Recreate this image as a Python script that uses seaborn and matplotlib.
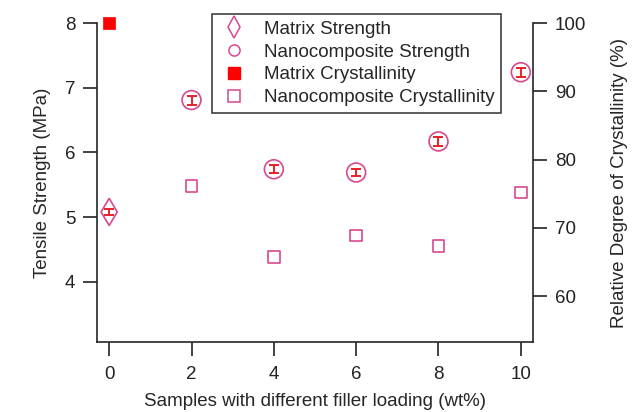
import matplotlib
matplotlib.use("Agg")
import matplotlib.pyplot as plt
from matplotlib.lines import Line2D
import numpy as np
import pandas as pd
import seaborn as sns

# tensile strength (MPa)
matrix_x = [0]
matrix_strength = [5.08]
matrix_strength_err = [0.045]
nano_x = [2, 4, 6, 8, 10]
nano_strength = [6.81, 5.74, 5.69, 6.17, 7.24]
nano_strength_err = [0.07, 0.06, 0.06, 0.07, 0.07]

# relative degree of crystallinity (%)
matrix_cryst = [100.0]
nano_cryst = [76.1, 65.7, 68.9, 67.4, 75.2]

PINK = "#D8488F"
RED = "#E8202A"
FILL_RED = "#FF0000"
FS = 13.5

sns.set_style("ticks")
plt.rcParams["font.family"] = ["Liberation Sans", "DejaVu Sans"]

fig = plt.figure(figsize=(6.37, 4.12), dpi=100)
ax = fig.add_axes([0.152, 0.170, 0.685, 0.774])
ax2 = ax.twinx()

matrix_df = pd.DataFrame({"x": matrix_x, "s": matrix_strength, "c": matrix_cryst})
nano_df = pd.DataFrame({"x": nano_x, "s": nano_strength, "c": nano_cryst})

# strength on left axis
ax.errorbar(matrix_x, matrix_strength, yerr=matrix_strength_err, fmt="none",
            ecolor=RED, elinewidth=1.4, capsize=3.6, capthick=1.4, zorder=3)
ax.errorbar(nano_x, nano_strength, yerr=nano_strength_err, fmt="none",
            ecolor=RED, elinewidth=1.4, capsize=3.6, capthick=1.4, zorder=3)
sns.scatterplot(data=matrix_df, x="x", y="s", marker="d", s=190, ax=ax,
                facecolor="none", edgecolor=PINK, linewidth=1.2, zorder=4, clip_on=False)
sns.scatterplot(data=nano_df, x="x", y="s", marker="o", s=185, ax=ax,
                facecolor="none", edgecolor=PINK, linewidth=1.2, zorder=4)

# crystallinity on right axis
sns.scatterplot(data=matrix_df, x="x", y="c", marker="s", s=80, ax=ax2,
                color=FILL_RED, edgecolor=FILL_RED, linewidth=0.5, zorder=4, clip_on=False)
sns.scatterplot(data=nano_df, x="x", y="c", marker="s", s=72, ax=ax2,
                facecolor="none", edgecolor=PINK, linewidth=1.2, zorder=4)

ax.set_xlim(-0.3, 10.3)
ax.set_ylim(3.07, 8.0)
ax2.set_ylim(53.3, 100.0)
ax.set_xticks([0, 2, 4, 6, 8, 10])
ax.set_yticks([4, 5, 6, 7, 8])
ax2.set_yticks([60, 70, 80, 90, 100])

for a in (ax, ax2):
    a.spines["top"].set_visible(False)
    for sp in a.spines.values():
        sp.set_linewidth(1.2)
    a.tick_params(direction="out", length=10, width=1.2, labelsize=FS,
                  pad=5.5, colors="#222222")
ax.tick_params(axis="x", pad=7.5)
ax.spines["right"].set_visible(False)
ax2.spines["left"].set_visible(False)
ax2.spines["bottom"].set_visible(False)

ax.set_xlabel("Samples with different filler loading (wt%)", fontsize=FS, labelpad=7)
ax.set_ylabel("Tensile Strength (MPa)", fontsize=FS, labelpad=10)
ax2.set_ylabel("Relative Degree of Crystallinity (%)", fontsize=FS, labelpad=18)

handles = [
    Line2D([], [], ls="none", marker="d", ms=11, mfc="none", mec=PINK, mew=1.1),
    Line2D([], [], ls="none", marker="o", ms=8, mfc="none", mec=PINK, mew=1.1),
    Line2D([], [], ls="none", marker="s", ms=8, mfc=FILL_RED, mec=FILL_RED),
    Line2D([], [], ls="none", marker="s", ms=8, mfc="none", mec=PINK, mew=1.1),
]
labels = ["Matrix Strength", "Nanocomposite Strength",
          "Matrix Crystallinity", "Nanocomposite Crystallinity"]
leg = ax2.legend(handles, labels, loc="upper left", bbox_to_anchor=(0.264, 1.028),
                 fontsize=FS, frameon=True, fancybox=False, handlelength=1.6,
                 handletextpad=0.8, labelspacing=0.3, borderpad=0.35, borderaxespad=0)
leg.get_frame().set_edgecolor("#111111")
leg.get_frame().set_linewidth(1.2)

fig.savefig("out.png", dpi=100)
